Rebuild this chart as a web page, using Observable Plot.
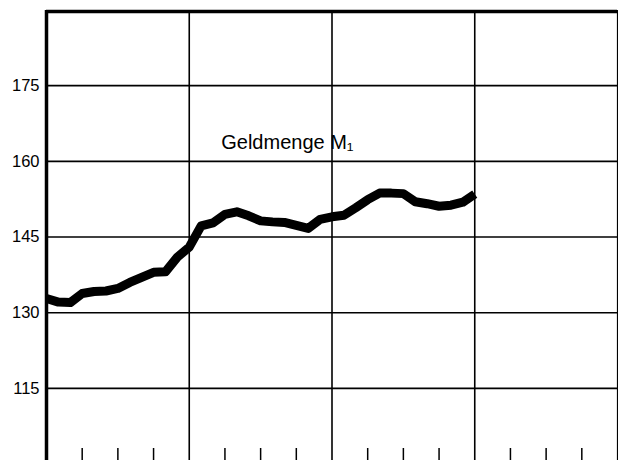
<!DOCTYPE html>
<html>
<head>
<meta charset="utf-8">
<script src="https://cdn.jsdelivr.net/npm/d3@7"></script>
<script src="https://cdn.jsdelivr.net/npm/@observablehq/plot@0.6"></script>
<style>
  html, body { margin: 0; padding: 0; background: #fff; }
  #chart svg { display: block; }
</style>
</head>
<body>
<div id="chart"></div>
<script>
// Months from start (3 years of monthly observations)
const months = [0,1,2,3,4,5,6,7,8,9,10,11,12,13,14,15,16,17,18,19,20,21,22,23,24,25,26,27,28,29,30,31,32,33,34,35,36];
// Geldmenge M1 (index values)
const values = [132.8,132.1,132.0,133.8,134.2,134.3,134.8,136.0,137.0,138.0,138.1,141.0,143.0,147.2,147.8,149.5,150.0,149.2,148.2,148.0,147.9,147.3,146.7,148.5,149.0,149.3,150.8,152.4,153.7,153.7,153.6,152.0,151.6,151.1,151.3,151.9,153.5];
// Axis ticks
const yTicks = [115, 130, 145, 160, 175];
const yearLines = [12, 24, 36];
const quarterTicks = [3,6,9,15,18,21,27,30,33,39,42,45];
const seriesLabel = "Geldmenge M₁";

const data = months.map((m, i) => ({month: m, value: values[i]}));

const chart = Plot.plot({
  width: 618,
  height: 460,
  marginLeft: 46,
  marginRight: 1,
  marginTop: 10,
  marginBottom: 0,
  style: {background: "#fff", fontFamily: "'Liberation Sans', Arial, sans-serif", color: "#000"},
  x: {domain: [0, 48], axis: null},
  y: {domain: [100.7, 189.9]},
  marks: [
    Plot.ruleY(yTicks, {stroke: "#000", strokeWidth: 1.6}),
    Plot.ruleX(yearLines, {stroke: "#000", strokeWidth: 1.6}),
    Plot.ruleX([48], {stroke: "#000", strokeWidth: 1.2}),
    Plot.ruleX(quarterTicks, {stroke: "#000", strokeWidth: 1.5, insetTop: 438}),
    Plot.ruleX([0], {stroke: "#000", strokeWidth: 3.5}),
    Plot.ruleY([189.9], {stroke: "#000", strokeWidth: 3.5, dy: 1}),
    Plot.axisY({ticks: yTicks, tickSize: 0, tickPadding: 7, fontSize: 16.5, label: null, fill: "#000"}),
    Plot.line(data, {x: "month", y: "value", stroke: "#000", strokeWidth: 9, strokeLinejoin: "round", strokeLinecap: "butt"}),
    Plot.text([seriesLabel], {x: 14.69, y: 162.5, text: d => d, textAnchor: "start", lineAnchor: "bottom", fontSize: 20, fill: "#000", style: "letter-spacing: 0.6px"})
  ]
});
document.getElementById("chart").append(chart);
</script>
</body>
</html>
